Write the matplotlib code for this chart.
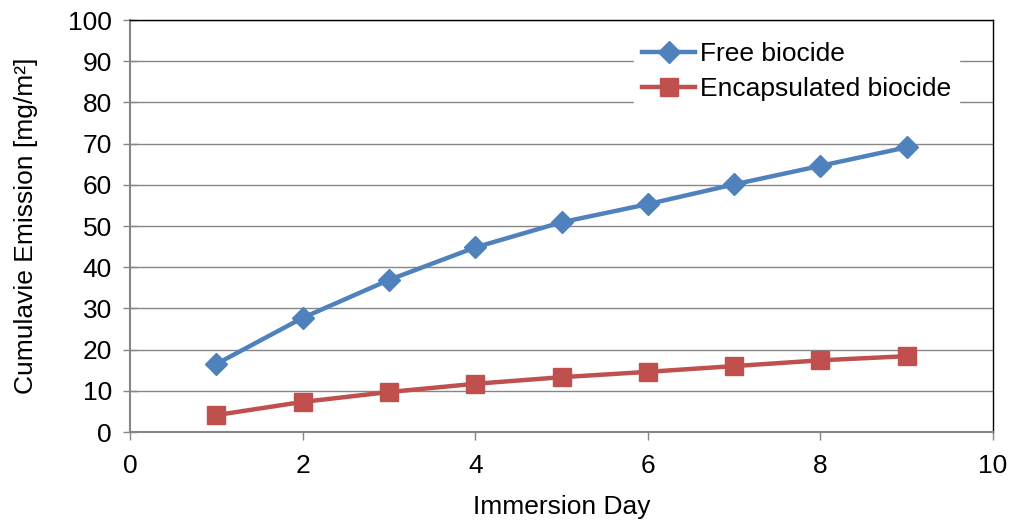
import matplotlib
matplotlib.use('Agg')
import matplotlib.pyplot as plt

# Emission data per immersion day
days = [1, 2, 3, 4, 5, 6, 7, 8, 9]
free_biocide = [16.5, 27.7, 36.9, 44.8, 50.9, 55.3, 60.1, 64.6, 69.1]
encapsulated_biocide = [4.1, 7.3, 9.7, 11.7, 13.3, 14.6, 16.0, 17.4, 18.4]

x_ticks = [0, 2, 4, 6, 8, 10]
y_ticks = list(range(0, 101, 10))

plt.rcParams['font.family'] = ['Liberation Sans', 'DejaVu Sans']
plt.rcParams['font.size'] = 19

fig = plt.figure(figsize=(10.12, 5.26), dpi=100)
ax = fig.add_axes([130 / 1012, 1 - 432 / 526, 863 / 1012, 412 / 526])

ax.plot(days, free_biocide, color='#4F81BD', lw=3.2, marker='D', ms=11.5,
        label='Free biocide', zorder=3)
ax.plot(days, encapsulated_biocide, color='#C0504D', lw=3.2, marker='s', ms=13,
        label='Encapsulated biocide', zorder=3)

ax.set_xlim(0, 10)
ax.set_ylim(0, 100)
ax.set_xticks(x_ticks)
ax.set_yticks(y_ticks)

# gridlines
ax.grid(axis='y', color='#868686', lw=1)
ax.set_axisbelow(True)

# axes frame
ax.spines['left'].set_color('#868686')
ax.spines['bottom'].set_color('#868686')
ax.spines['left'].set_linewidth(1.5)
ax.spines['bottom'].set_linewidth(1.5)
ax.spines['top'].set_color('black')
ax.spines['right'].set_color('black')
ax.spines['top'].set_linewidth(1)
ax.spines['right'].set_linewidth(1)

ax.tick_params(axis='y', direction='inout', length=10, width=1, color='#868686', pad=8)
ax.tick_params(axis='x', direction='out', length=6, width=1, color='#868686', pad=10)

ax.set_xlabel('Immersion Day', labelpad=12)
ax.set_ylabel('Cumulavie Emission [mg/m²]', labelpad=22)

leg = ax.legend(loc='upper left', bbox_to_anchor=(0.569, 0.997), frameon=True,
                fancybox=False, edgecolor='white', framealpha=1, handlelength=2.0,
                borderpad=0.3, labelspacing=0.4, handletextpad=0.2)

fig.savefig('out.png', dpi=100)
